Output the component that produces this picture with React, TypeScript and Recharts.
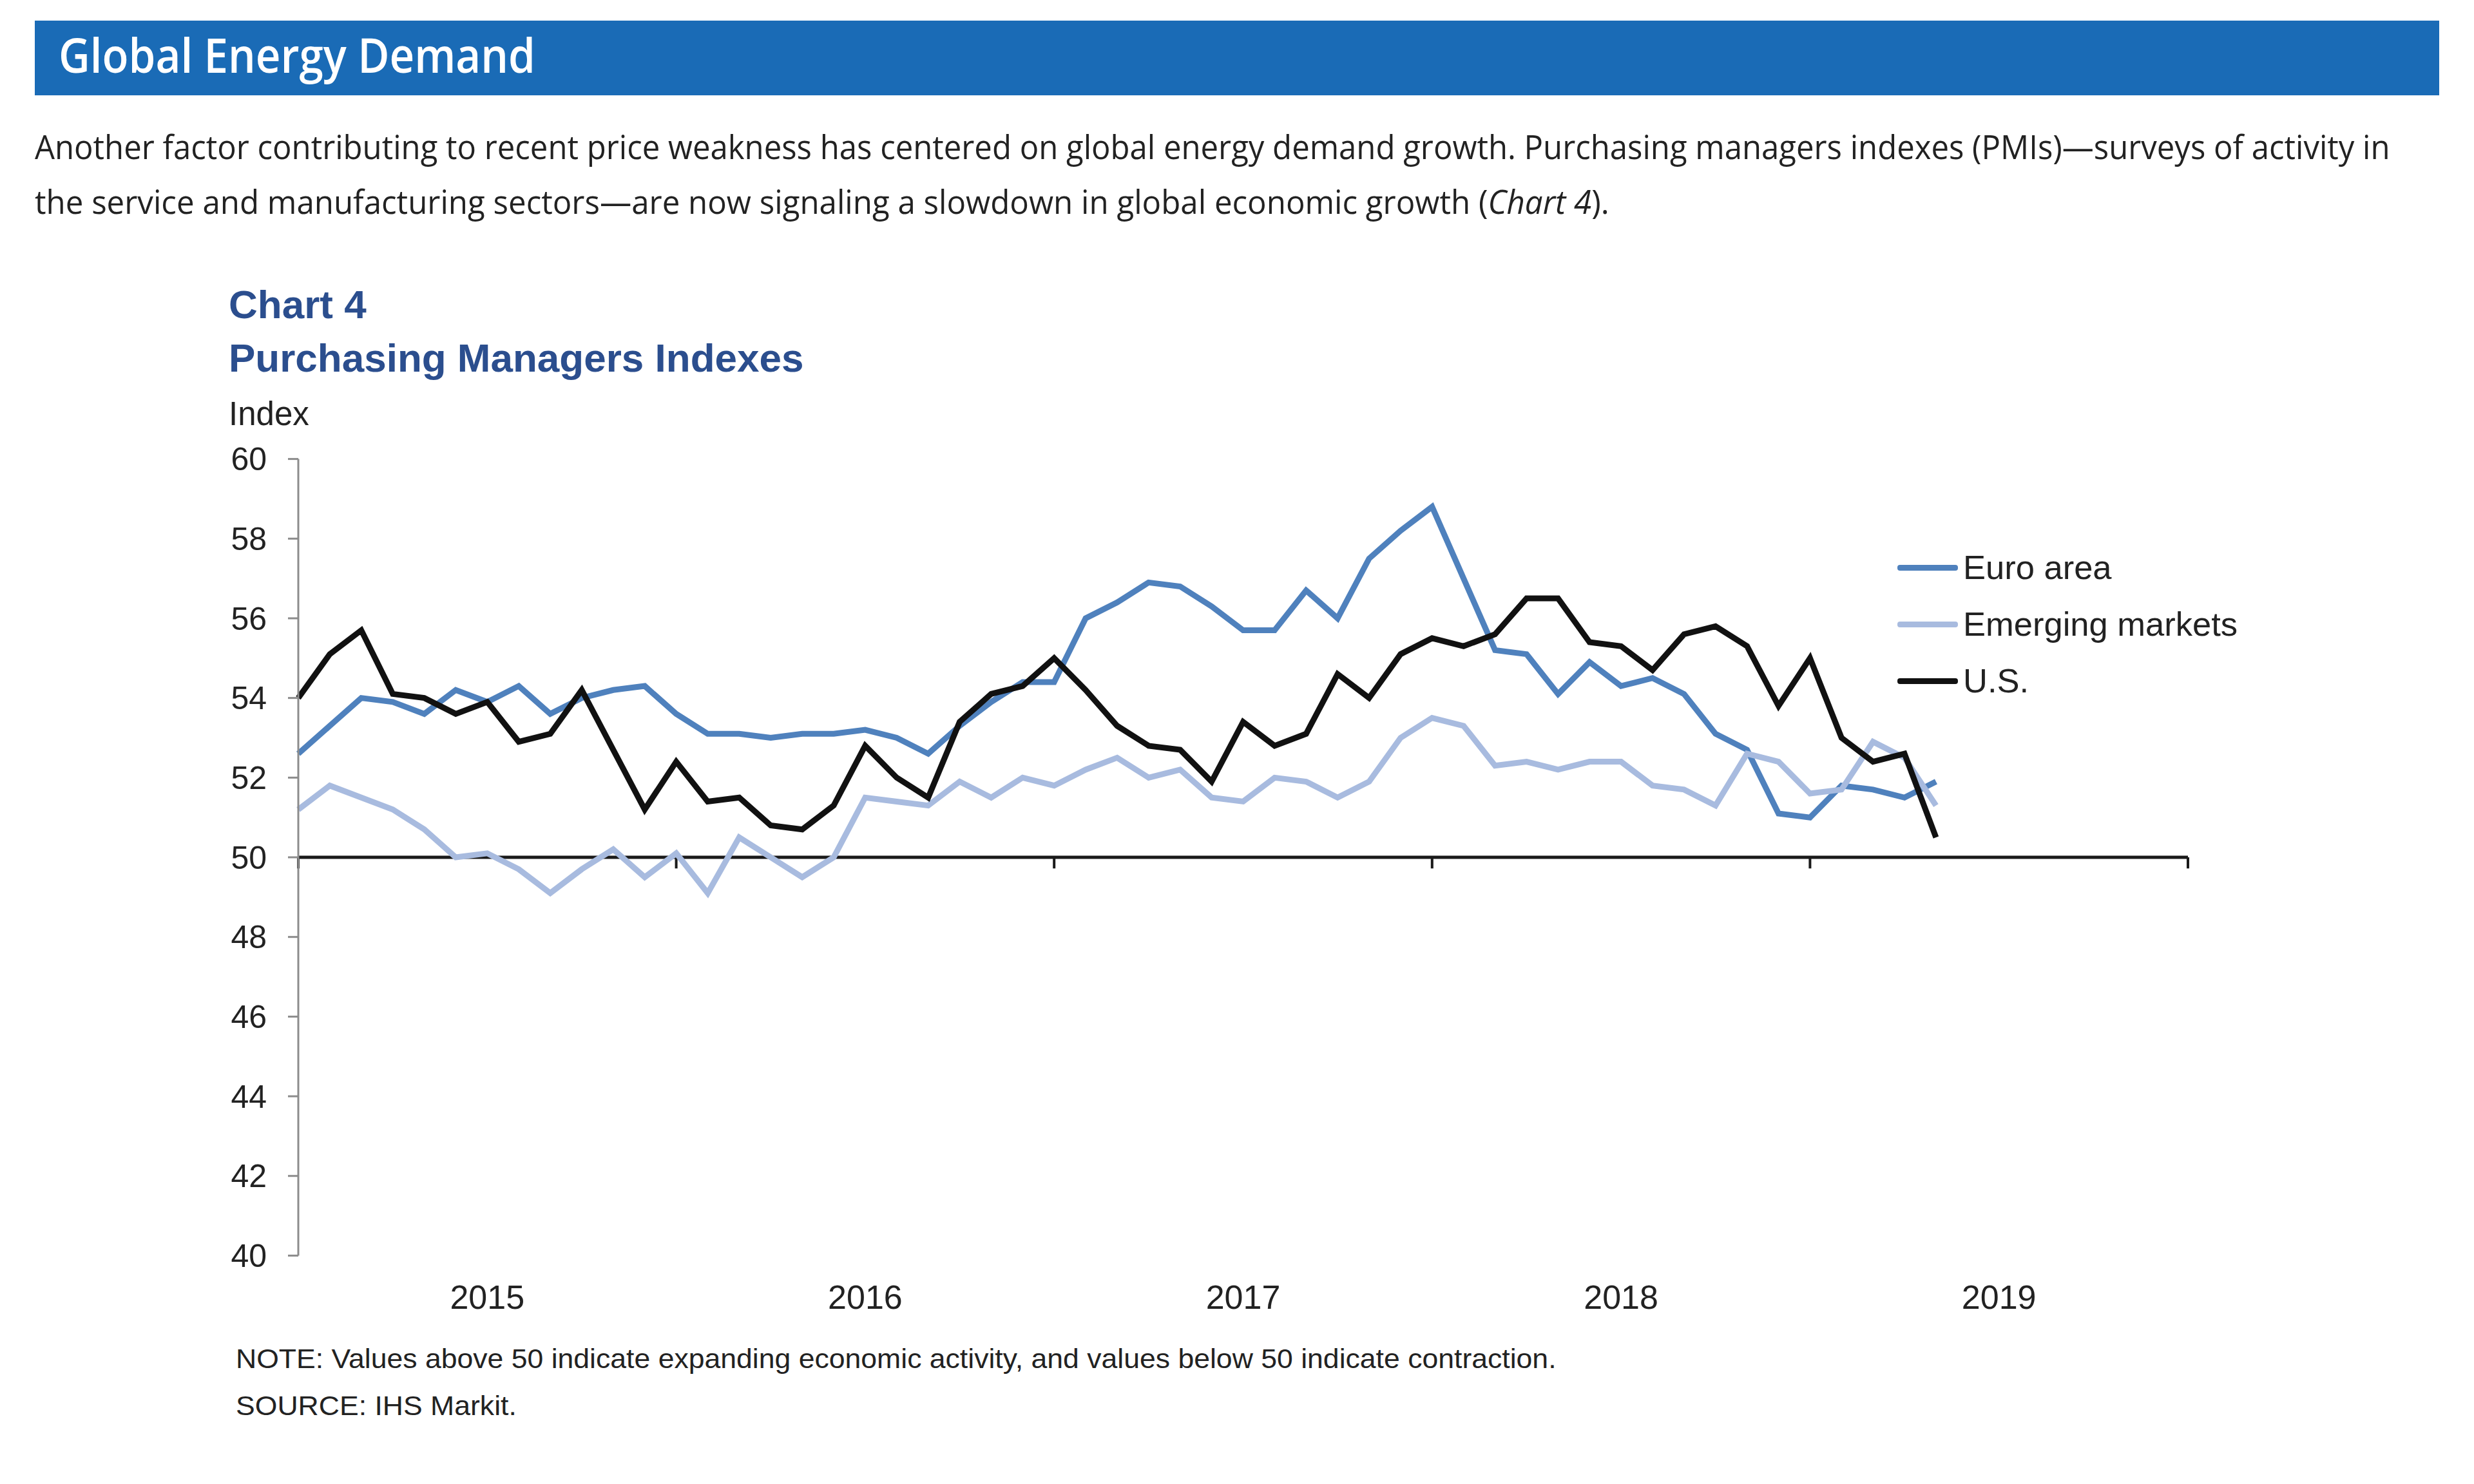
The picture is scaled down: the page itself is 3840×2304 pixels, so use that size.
import React from 'react';
import { LineChart, Line, XAxis, YAxis, ReferenceLine, Legend } from 'recharts';

// Monthly PMI readings, Jan 2015 – May 2019
const euroArea = [52.6, 53.3, 54.0, 53.9, 53.6, 54.2, 53.9, 54.3, 53.6, 54.0, 54.2, 54.3, 53.6, 53.1, 53.1, 53.0, 53.1, 53.1, 53.2, 53.0, 52.6, 53.3, 53.9, 54.4, 54.4, 56.0, 56.4, 56.9, 56.8, 56.3, 55.7, 55.7, 56.7, 56.0, 57.5, 58.2, 58.8, 57.0, 55.2, 55.1, 54.1, 54.9, 54.3, 54.5, 54.1, 53.1, 52.7, 51.1, 51.0, 51.8, 51.7, 51.5, 51.9];
const emergingMarkets = [51.2, 51.8, 51.5, 51.2, 50.7, 50.0, 50.1, 49.7, 49.1, 49.7, 50.2, 49.5, 50.1, 49.1, 50.5, 50.0, 49.5, 50.0, 51.5, 51.4, 51.3, 51.9, 51.5, 52.0, 51.8, 52.2, 52.5, 52.0, 52.2, 51.5, 51.4, 52.0, 51.9, 51.5, 51.9, 53.0, 53.5, 53.3, 52.3, 52.4, 52.2, 52.4, 52.4, 51.8, 51.7, 51.3, 52.6, 52.4, 51.6, 51.7, 52.9, 52.5, 51.3];
const usPmi = [54.0, 55.1, 55.7, 54.1, 54.0, 53.6, 53.9, 52.9, 53.1, 54.2, 52.7, 51.2, 52.4, 51.4, 51.5, 50.8, 50.7, 51.3, 52.8, 52.0, 51.5, 53.4, 54.1, 54.3, 55.0, 54.2, 53.3, 52.8, 52.7, 51.9, 53.4, 52.8, 53.1, 54.6, 54.0, 55.1, 55.5, 55.3, 55.6, 56.5, 56.5, 55.4, 55.3, 54.7, 55.6, 55.8, 55.3, 53.8, 55.0, 53.0, 52.4, 52.6, 50.5];

const yearLabels = ['2015', '2016', '2017', '2018', '2019'];
const yearLabelMonths = [6, 18, 30, 42, 54];
const yearBoundaryMonths = [0, 12, 24, 36, 48, 60];
const yTicks = [40, 42, 44, 46, 48, 50, 52, 54, 56, 58, 60];

const series = [
  { key: 'euro', name: 'Euro area', color: '#4F81BD' },
  { key: 'em', name: 'Emerging markets', color: '#A8BBDF' },
  { key: 'us', name: 'U.S.', color: '#111111' },
];

const data = euroArea.map((v, i) => ({ m: i, euro: v, em: emergingMarkets[i], us: usPmi[i] }));

const chartFont = '"Liberation Sans", Arial, sans-serif';
const bodyFont = '"Open Sans", sans-serif';

// SVG text squeezed/stretched horizontally to a measured target width
function FitText(props: any) {
  const { x, y, width, children, ...rest } = props;
  const ref = React.useRef<SVGTextElement>(null);
  const [scale, setScale] = React.useState(1);
  React.useLayoutEffect(() => {
    if (ref.current) {
      const w = ref.current.getBBox().width;
      if (w > 0) setScale(width / w);
    }
  }, [width]);
  return (
    <text ref={ref} transform={`translate(${x},${y}) scale(${scale},1)`} x={0} y={0} {...rest}>
      {children}
    </text>
  );
}

const LegendContent = () => (
  <div style={{ display: 'flex', flexDirection: 'column' }}>
    {series.map((s) => (
      <div key={s.key} style={{ display: 'flex', alignItems: 'center', height: 88 }}>
        <div style={{ width: 94, height: 9, background: s.color, borderRadius: 4 }} />
        <span style={{ marginLeft: 8, fontSize: 52.5, fontFamily: chartFont, color: '#222', lineHeight: '88px', whiteSpace: 'nowrap' }}>
          {s.name}
        </span>
      </div>
    ))}
  </div>
);

export default function App() {
  return (
    <div style={{ position: 'absolute', left: 0, top: 0, width: 3840, height: 2304, background: '#fff', overflow: 'hidden' }}>
      <div
        style={{
          position: 'absolute', left: 54, top: 32, width: 3732, height: 116, background: '#1A6BB6',
        }}
      />
      <svg width={3840} height={2304} style={{ position: 'absolute', left: 0, top: 0 }}>
        <FitText x={91} y={113} width={740} fill="#fff" fontFamily={bodyFont} fontWeight={600} fontSize={74}>
          Global Energy Demand
        </FitText>
        <FitText x={54} y={247} width={3656} fill="#222" fontFamily={bodyFont} fontSize={52}>
          Another factor contributing to recent price weakness has centered on global energy demand growth. Purchasing managers indexes (PMIs)—surveys of activity in
        </FitText>
        <FitText x={54} y={332} width={2444} fill="#222" fontFamily={bodyFont} fontSize={52}>
          the service and manufacturing sectors—are now signaling a slowdown in global economic growth (<tspan fontStyle="italic">Chart 4</tspan>).
        </FitText>
        <text x={355} y={494} fill="#2B4E8E" fontFamily={chartFont} fontWeight="bold" fontSize={62}>Chart 4</text>
        <text x={355} y={577} fill="#2B4E8E" fontFamily={chartFont} fontWeight="bold" fontSize={62}>Purchasing Managers Indexes</text>
        <text x={355} y={660} fill="#222" fontFamily={chartFont} fontSize={51}>Index</text>
        <FitText x={366} y={2124} width={2050} fill="#222" fontFamily={chartFont} fontSize={42}>
          NOTE: Values above 50 indicate expanding economic activity, and values below 50 indicate contraction.
        </FitText>
        <FitText x={366} y={2197} width={436} fill="#222" fontFamily={chartFont} fontSize={43}>
          SOURCE: IHS Markit.
        </FitText>
      </svg>
      <div style={{ position: 'absolute', left: 0, top: 0 }}>
        <LineChart width={3840} height={2304} data={data} margin={{ top: 712.6, right: 444, bottom: 294.6, left: 363 }}>
          <XAxis
            dataKey="m"
            type="number"
            domain={[0, 60]}
            ticks={yearLabelMonths}
            interval={0}
            tickFormatter={(v: number) => yearLabels[yearLabelMonths.indexOf(v)]}
            axisLine={false}
            tickLine={false}
            tickSize={6}
            tickMargin={40}
            height={60}
            tick={{ fontSize: 52, fill: '#222', fontFamily: chartFont }}
          />
          <YAxis
            domain={[40, 60]}
            ticks={yTicks}
            interval={0}
            width={100}
            axisLine={{ stroke: '#8c8c8c', strokeWidth: 3 }}
            tickLine={{ stroke: '#8c8c8c', strokeWidth: 3 }}
            tickSize={16}
            tickMargin={33}
            tick={{ fontSize: 50, fill: '#222', fontFamily: chartFont }}
          />
          <ReferenceLine y={50} stroke="#1a1a1a" strokeWidth={5} />
          {yearBoundaryMonths.map((b) => (
            <ReferenceLine key={b} segment={[{ x: b, y: 50 }, { x: b, y: 49.72 }]} stroke="#1a1a1a" strokeWidth={4} />
          ))}
          <Legend
            layout="vertical"
            align="center"
            verticalAlign="middle"
            content={<LegendContent />}
            wrapperStyle={{ position: 'absolute', left: 2945, top: 837, width: 'auto' }}
          />
          {series.map((s) => (
            <Line
              key={s.key}
              type="linear"
              dataKey={s.key}
              name={s.name}
              stroke={s.color}
              strokeWidth={9}
              dot={false}
              activeDot={false}
              isAnimationActive={false}
            />
          ))}
        </LineChart>
      </div>
    </div>
  );
}
